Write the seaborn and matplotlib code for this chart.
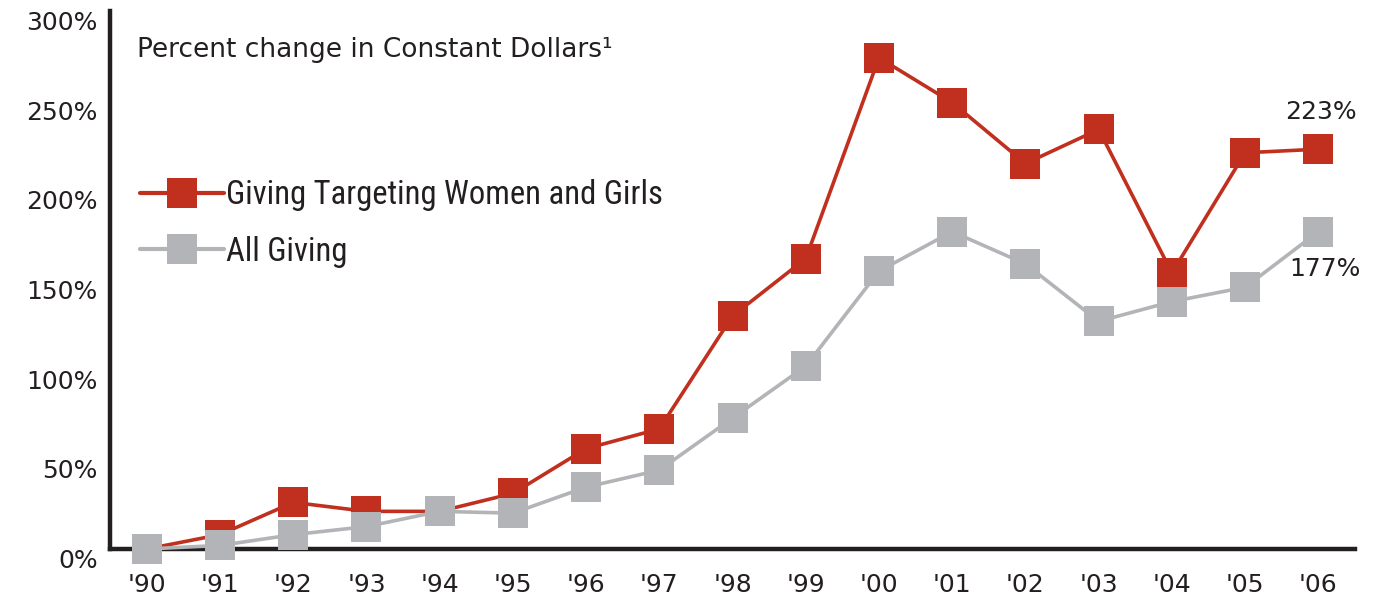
import matplotlib
matplotlib.use("Agg")
import matplotlib.pyplot as plt
import seaborn as sns
import pandas as pd
from matplotlib.lines import Line2D

years = ["'90", "'91", "'92", "'93", "'94", "'95", "'96", "'97", "'98",
         "'99", "'00", "'01", "'02", "'03", "'04", "'05", "'06"]
women_girls = [0, 8, 26, 21, 21, 31, 56, 67, 130, 162, 274, 249, 215, 234, 154, 221, 223]
all_giving = [0, 2, 8, 12.5, 21, 20, 34.5, 44, 73, 102, 155, 177, 159, 127, 138, 146, 177]
series_names = ["Giving Targeting Women and Girls", "All Giving"]
yticks = [0, 50, 100, 150, 200, 250, 300]
title = "Percent change in Constant Dollars\u00b9"

RED = "#C1301F"
GRAY = "#B3B4B7"
INK = "#231F20"

df = pd.DataFrame({
    "x": list(range(len(years))) * 2,
    "value": women_girls + all_giving,
    "series": [series_names[0]] * len(years) + [series_names[1]] * len(years),
})

sns.set_style("white")
plt.rcParams["font.family"] = ["DejaVu Sans"]

fig = plt.figure(figsize=(13.77, 5.95), dpi=100)
ax = fig.add_axes([0.080, 0.0773, 0.904, 0.904])

# red first, gray markers drawn on top (as in the reference)
for name, col, z in [(series_names[0], RED, 3), (series_names[1], GRAY, 4)]:
    sub = df[df["series"] == name]
    sns.lineplot(data=sub, x="x", y="value", ax=ax, color=col, linewidth=2.6,
                 marker="s", markersize=21, markeredgewidth=0, zorder=z,
                 clip_on=False, legend=False)

ax.set_xlim(-0.5, 16.5)
ax.set_ylim(0, 300)
ax.set_xticks(range(len(years)))
ax.set_xticklabels(years, fontsize=18, color=INK)
ax.set_yticks(yticks)
ax.set_yticklabels([f"{v}%" for v in yticks], fontsize=18, color=INK)
for lab in ax.get_yticklabels():
    lab.set_va("top")
ax.tick_params(axis="x", length=0, pad=17)
ax.tick_params(axis="y", length=0, pad=9)
ax.set_xlabel("")
ax.set_ylabel("")
for s in ["top", "right"]:
    ax.spines[s].set_visible(False)
for s in ["left", "bottom"]:
    ax.spines[s].set_color(INK)
    ax.spines[s].set_linewidth(3.2)
    ax.spines[s].set_zorder(2.5)

ax.text(0.0217, 0.9275, title, transform=ax.transAxes, fontsize=19,
        color=INK, va="center", ha="left")

handles = [
    Line2D([], [], color=RED, linewidth=3, marker="s", markersize=21, markeredgewidth=0),
    Line2D([], [], color=GRAY, linewidth=3, marker="s", markersize=21, markeredgewidth=0),
]
narrow = ["Liberation Sans Narrow", "Roboto Condensed", "DejaVu Sans Condensed", "DejaVu Sans"]
leg = ax.legend(handles, series_names, loc="center left",
                bbox_to_anchor=(0.0, 0.605), frameon=False,
                handlelength=2.6, handletextpad=0.05, labelspacing=0.75,
                prop={"family": narrow, "size": 23.5})
for t in leg.get_texts():
    t.set_color(INK)

ax.annotate("223%", xy=(16, women_girls[-1]), xytext=(2, 27),
            textcoords="offset points", ha="center", va="center",
            fontsize=18, color=INK)
ax.annotate("177%", xy=(16, all_giving[-1]), xytext=(5, -27),
            textcoords="offset points", ha="center", va="center",
            fontsize=18, color=INK)

fig.savefig("out.png", dpi=100)
